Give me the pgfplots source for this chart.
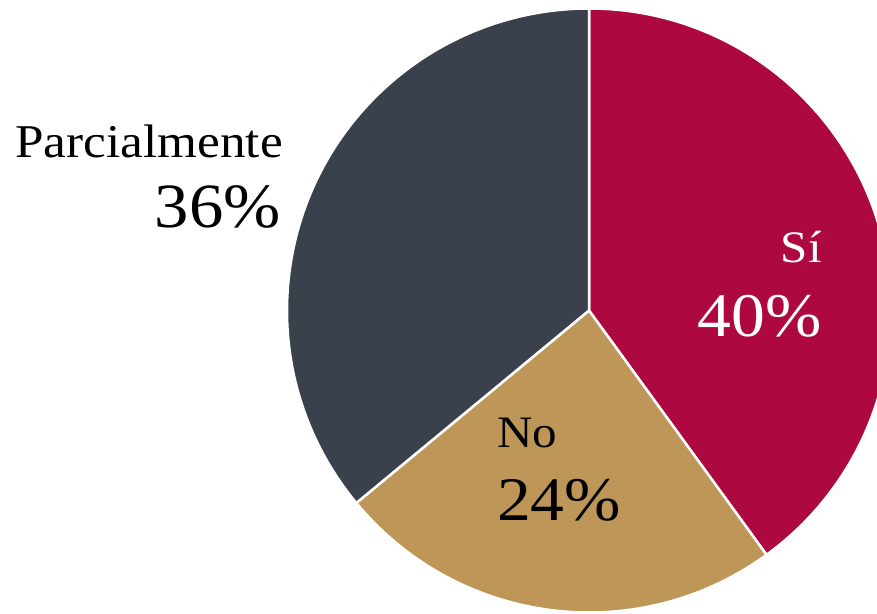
\documentclass[border=0pt]{standalone}
\usepackage{pgfplots}
\pgfplotsset{compat=1.18}
\usepackage{pgfplotstable}
\usepackage{fontspec}
\setmainfont[FakeStretch=1.09]{Liberation Serif}
\definecolor{cSi}{HTML}{AE0841}
\definecolor{cNo}{HTML}{BE9758}
\definecolor{cPa}{HTML}{3A414C}
\pgfplotstableread{
label value
Si 40
No 24
Parcialmente 36
}\piedata
\begin{document}
\begin{tikzpicture}
\pgfplotstablegetelem{0}{value}\of\piedata \let\vA\pgfplotsretval
\pgfplotstablegetelem{1}{value}\of\piedata \let\vB\pgfplotsretval
\pgfplotstablegetelem{2}{value}\of\piedata \let\vC\pgfplotsretval
\pgfmathsetmacro{\aA}{90}
\pgfmathsetmacro{\aB}{90-3.6*\vA}
\pgfmathsetmacro{\aC}{\aB-3.6*\vB}
\pgfmathsetmacro{\aD}{\aC-3.6*\vC}
\begin{axis}[
  x=1pt, y=1pt,
  xmin=0, xmax=877, ymin=0, ymax=613,
  hide axis, clip=true,
]
\def\R{302pt}
\fill[cSi,draw=white,line width=2.5pt,line join=round] (axis cs:589,302.5) -- ++(\aA:\R) arc[start angle=\aA, end angle=\aB, radius=\R] -- cycle;
\fill[cNo,draw=white,line width=2.5pt,line join=round] (axis cs:589,302.5) -- ++(\aB:\R) arc[start angle=\aB, end angle=\aC, radius=\R] -- cycle;
\fill[cPa,draw=white,line width=2.5pt,line join=round] (axis cs:589,302.5) -- ++(\aC:\R) arc[start angle=\aC, end angle=\aD, radius=\R] -- cycle;
\node[anchor=base east,inner sep=0pt,font=\fontsize{47}{50}\selectfont] at (axis cs:283,455) {Parcialmente};
\node[anchor=base east,inner sep=0pt,font=\fontsize{63}{66}\selectfont] at (axis cs:281,385) {\vC\%};
\node[anchor=base east,inner sep=0pt,text=white,font=\fontsize{45}{48}\selectfont] at (axis cs:822,350) {Sí};
\node[anchor=base east,inner sep=0pt,text=white,font=\fontsize{62}{66}\selectfont] at (axis cs:822,276) {\vA\%};
\node[anchor=base west,inner sep=0pt,font=\fontsize{45}{48}\selectfont] at (axis cs:497,165) {No};
\node[anchor=base west,inner sep=0pt,font=\fontsize{62}{66}\selectfont] at (axis cs:497,93) {\vB\%};
\end{axis}
\pgfresetboundingbox
\path (0,0) rectangle (877pt,613pt);
\end{tikzpicture}
\end{document}
